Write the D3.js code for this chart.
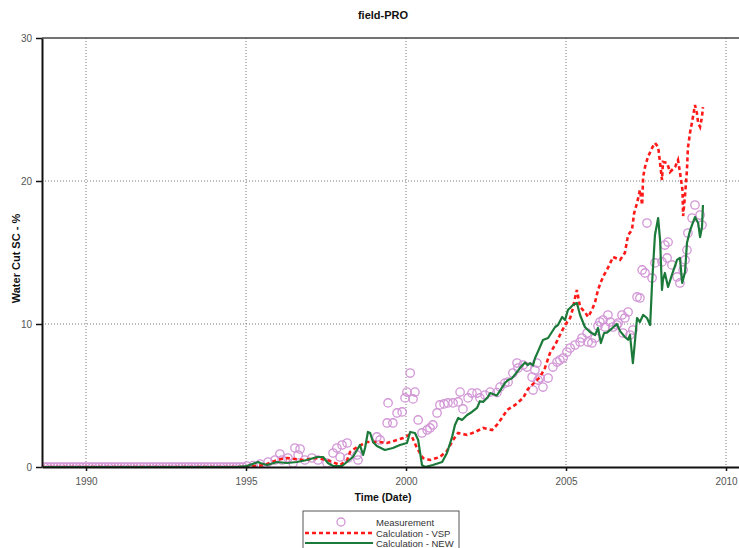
<!DOCTYPE html>
<html>
<head>
<meta charset="utf-8">
<script src="https://cdn.jsdelivr.net/npm/d3@7"></script>
<style>
  body { margin: 0; background: #fff; }
  svg { display: block; font-family: "Liberation Sans", Arial, sans-serif; }
</style>
</head>
<body>
<div id="chart"></div>
<script>
// ---- data (decimal year, water cut %) ----
const yearTicks = [1990, 1995, 2000, 2005, 2010];
const valueTicks = [0, 10, 20, 30];

// measurement sits at zero before production starts
const measZeroYears = [1988.7, 1988.8, 1988.9, 1989.0, 1989.1, 1989.2, 1989.3, 1989.4, 1989.5, 1989.6,
  1989.7, 1989.8, 1989.9, 1990.0, 1990.1, 1990.2, 1990.3, 1990.4, 1990.5, 1990.6, 1990.7, 1990.8,
  1990.9, 1991.0, 1991.1, 1991.2, 1991.3, 1991.4, 1991.5, 1991.6, 1991.7, 1991.8, 1991.9, 1992.0,
  1992.1, 1992.2, 1992.3, 1992.4, 1992.5, 1992.6, 1992.7, 1992.8, 1992.9, 1993.0, 1993.1, 1993.2,
  1993.3, 1993.4, 1993.5, 1993.6, 1993.7, 1993.8, 1993.9, 1994.0, 1994.1, 1994.2, 1994.3, 1994.4,
  1994.5, 1994.6, 1994.7, 1994.8, 1994.9];

const measurement = [
  [1995.03, 0.07], [1995.22, 0.1], [1995.44, 0.2], [1995.69, 0.35], [1995.91, 0.49], [1996.06, 0.91],
  [1996.13, 0.49], [1996.31, 0.63], [1996.47, 0.28], [1996.53, 1.33], [1996.63, 0.84], [1996.69, 1.26],
  [1996.84, 0.49], [1997.06, 0.63], [1997.25, 0.49], [1997.53, 0.28], [1997.72, 0.98], [1997.84, 1.33],
  [1997.94, 0.7], [1998.0, 1.54], [1998.16, 1.68], [1998.19, 0.63], [1998.47, 0.84], [1998.5, 0.49],
  [1999.09, 2.1], [1999.19, 1.89], [1999.41, 3.08], [1999.44, 4.48], [1999.59, 3.08], [1999.72, 3.78],
  [1999.88, 3.85], [1999.97, 4.83], [2000.03, 5.24], [2000.13, 6.57], [2000.22, 4.76], [2000.28, 5.24],
  [2000.38, 3.29], [2000.5, 2.38], [2000.66, 2.59], [2000.75, 2.73], [2000.84, 2.94], [2000.97, 3.78],
  [2001.06, 4.34], [2001.19, 4.41], [2001.31, 4.48], [2001.47, 4.48], [2001.63, 4.55], [2001.69, 5.24],
  [2001.78, 4.06], [2001.94, 4.83], [2002.06, 5.17], [2002.22, 5.17], [2002.31, 4.83], [2002.47, 5.03],
  [2002.63, 5.24], [2002.84, 5.2], [2002.94, 5.59], [2003.09, 5.87], [2003.19, 5.94], [2003.34, 6.57],
  [2003.47, 7.27], [2003.5, 6.92], [2003.66, 7.13], [2003.78, 6.99], [2003.94, 6.29], [2003.97, 5.38],
  [2004.03, 6.78], [2004.09, 7.27], [2004.13, 6.08], [2004.19, 6.22], [2004.28, 5.59], [2004.44, 6.22],
  [2004.59, 6.99], [2004.72, 7.34], [2004.81, 7.48], [2004.91, 7.62], [2005.03, 8.04], [2005.13, 8.32],
  [2005.28, 8.53], [2005.44, 8.74], [2005.5, 9.02], [2005.66, 9.37], [2005.69, 8.74], [2005.81, 8.67],
  [2005.91, 9.02], [2006.0, 9.86], [2006.06, 10.14], [2006.16, 10.28], [2006.22, 9.79], [2006.31, 10.63],
  [2006.38, 10.14], [2006.47, 9.79], [2006.59, 9.93], [2006.63, 10.07], [2006.75, 10.63], [2006.78, 9.37],
  [2006.84, 10.42], [2006.94, 10.84], [2007.0, 9.23], [2007.09, 9.58], [2007.22, 11.89], [2007.31, 11.82],
  [2007.38, 13.78], [2007.47, 13.57], [2007.53, 17.06], [2007.69, 13.22], [2007.78, 14.27], [2008.0, 14.34],
  [2008.09, 15.52], [2008.16, 14.62], [2008.19, 15.73], [2008.31, 14.13], [2008.47, 13.29], [2008.56, 12.87],
  [2008.66, 13.78], [2008.72, 14.48], [2008.78, 15.17], [2008.81, 16.36], [2008.94, 17.41], [2009.03, 18.32],
  [2009.19, 17.62], [2009.25, 16.92]
];

const calcVsp = [
  [1988.63, 0], [1995.0, 0], [1995.59, 0.14], [1995.97, 0.49], [1996.28, 0.63], [1996.78, 0.49],
  [1997.22, 0.63], [1997.53, 0.49], [1997.94, 0.14], [1998.16, 0.49], [1998.25, 1.05], [1998.47, 1.4],
  [1998.78, 1.75], [1999.19, 1.75], [1999.41, 1.68], [1999.72, 1.89], [1999.91, 2.03], [2000.09, 2.24],
  [2000.19, 2.1], [2000.34, 1.33], [2000.53, 0.63], [2000.75, 0.49], [2001.06, 0.7], [2001.28, 1.12],
  [2001.47, 1.89], [2001.63, 2.38], [2001.91, 2.24], [2002.16, 2.45], [2002.41, 2.73], [2002.69, 2.59],
  [2002.84, 2.94], [2003.0, 3.43], [2003.16, 3.99], [2003.41, 4.34], [2003.66, 4.83], [2003.81, 5.45],
  [2004.03, 5.94], [2004.19, 6.29], [2004.34, 6.92], [2004.5, 7.97], [2004.66, 8.53], [2004.81, 9.23],
  [2004.97, 9.93], [2005.13, 10.42], [2005.22, 11.12], [2005.28, 11.82], [2005.34, 12.38], [2005.44, 11.19],
  [2005.59, 10.84], [2005.69, 10.49], [2005.81, 10.98], [2005.91, 11.54], [2006.0, 12.38], [2006.09, 12.94],
  [2006.19, 13.43], [2006.31, 13.92], [2006.47, 14.69], [2006.69, 14.48], [2006.84, 14.97], [2006.94, 16.22],
  [2007.06, 16.57], [2007.13, 17.76], [2007.22, 18.46], [2007.31, 19.37], [2007.38, 18.32], [2007.41, 20.28],
  [2007.47, 20.98], [2007.56, 21.68], [2007.69, 22.31], [2007.78, 22.66], [2007.88, 22.38], [2007.94, 21.26],
  [2008.0, 20.07], [2008.03, 21.33], [2008.16, 21.26], [2008.25, 20.63], [2008.41, 20.98], [2008.5, 21.47],
  [2008.56, 20.63], [2008.64, 19.37], [2008.66, 17.55], [2008.72, 19.02], [2008.78, 20.77], [2008.81, 22.31],
  [2008.88, 23.43], [2008.94, 24.13], [2009.03, 25.31], [2009.09, 24.76], [2009.13, 24.06], [2009.19, 23.78],
  [2009.25, 24.48], [2009.28, 25.17]
];

const calcNew = [
  [1988.63, 0], [1994.7, 0], [1995.03, 0.07], [1995.38, 0.35], [1995.44, 0.28], [1995.66, 0.14],
  [1995.97, 0.35], [1996.28, 0.28], [1996.59, 0.35], [1996.91, 0.49], [1997.22, 0.7], [1997.41, 0.7],
  [1997.56, 0.28], [1997.72, 0.07], [1998.0, 0.07], [1998.34, 0.7], [1998.56, 1.54], [1998.66, 0.84],
  [1998.72, 1.33], [1998.81, 2.45], [1998.88, 2.38], [1998.97, 1.75], [1999.09, 1.47], [1999.34, 1.19],
  [1999.59, 1.33], [1999.81, 1.54], [2000.03, 1.68], [2000.13, 2.45], [2000.28, 2.38], [2000.38, 1.89],
  [2000.5, 0.14], [2000.59, 0], [2000.84, 0.14], [2001.13, 0.35], [2001.28, 0.98], [2001.44, 2.1],
  [2001.53, 2.94], [2001.63, 3.43], [2001.75, 3.29], [2001.91, 3.64], [2002.06, 3.85], [2002.22, 4.13],
  [2002.31, 4.6], [2002.41, 4.55], [2002.56, 4.9], [2002.63, 5.17], [2002.84, 5.0], [2002.97, 5.45],
  [2003.09, 5.87], [2003.19, 6.08], [2003.31, 6.2], [2003.47, 6.64], [2003.56, 6.92], [2003.72, 7.3],
  [2003.81, 7.13], [2003.88, 7.27], [2003.97, 7.1], [2004.03, 7.6], [2004.13, 8.1], [2004.28, 8.88],
  [2004.44, 9.02], [2004.56, 9.44], [2004.66, 9.79], [2004.75, 9.93], [2004.88, 10.49], [2004.97, 10.28],
  [2005.06, 10.98], [2005.22, 11.33], [2005.34, 11.47], [2005.44, 10.63], [2005.59, 9.79], [2005.75, 9.44],
  [2005.91, 9.23], [2006.0, 9.72], [2006.09, 8.67], [2006.19, 9.37], [2006.28, 9.4], [2006.44, 9.7],
  [2006.59, 10.0], [2006.69, 9.5], [2006.84, 9.09], [2006.94, 8.9], [2007.0, 9.23], [2007.09, 7.27],
  [2007.16, 8.9], [2007.22, 10.42], [2007.31, 10.14], [2007.41, 10.63], [2007.53, 10.42], [2007.63, 9.93],
  [2007.69, 12.87], [2007.78, 16.22], [2007.88, 17.41], [2007.94, 15.87], [2008.0, 12.38], [2008.03, 13.08],
  [2008.09, 13.57], [2008.19, 12.59], [2008.31, 13.43], [2008.47, 14.48], [2008.56, 14.62], [2008.63, 12.87],
  [2008.72, 13.64], [2008.78, 15.66], [2008.88, 16.57], [2009.03, 17.48], [2009.13, 17.06], [2009.19, 16.08],
  [2009.25, 16.78], [2009.28, 18.32]
];

const legendItems = ["Measurement", "Calculation - VSP", "Calculation - NEW"];

// ---- layout ----
const W = 739, H = 548;
const margin = { top: 38, right: 0, bottom: 81, left: 42 };
const plotW = W - margin.left - margin.right;
const plotH = H - margin.top - margin.bottom;

const svg = d3.select("#chart").append("svg")
  .attr("width", W)
  .attr("height", H);

const x = d3.scaleLinear()
  .domain([1988.625, 1988.625 + plotW / 32])
  .range([0, plotW]);
const y = d3.scaleLinear()
  .domain([0, 30])
  .range([plotH, 0]);

const g = svg.append("g")
  .attr("transform", `translate(${margin.left},${margin.top})`);

g.append("clipPath").attr("id", "clip")
  .append("rect").attr("width", plotW).attr("height", plotH);

// grid
g.selectAll(".vgrid").data(yearTicks).enter().append("line")
  .attr("x1", d => x(d)).attr("x2", d => x(d))
  .attr("y1", 0).attr("y2", plotH)
  .attr("stroke", "#777").attr("stroke-width", 1).attr("stroke-dasharray", "1,2");
g.selectAll(".hgrid").data([10, 20]).enter().append("line")
  .attr("x1", 0).attr("x2", plotW)
  .attr("y1", d => y(d)).attr("y2", d => y(d))
  .attr("stroke", "#777").attr("stroke-width", 1).attr("stroke-dasharray", "1,2");

const plot = g.append("g").attr("clip-path", "url(#clip)");

// measurement circles
const measAll = measZeroYears.map(yr => [yr, 0]).concat(measurement);
plot.selectAll(".meas").data(measAll).enter().append("circle")
  .attr("cx", d => x(d[0]))
  .attr("cy", d => y(d[1]))
  .attr("r", 4.2)
  .attr("fill", "none")
  .attr("stroke", "#d296d6")
  .attr("stroke-width", 1.3);

const line = d3.line().x(d => x(d[0])).y(d => y(d[1]));

plot.append("path").datum(calcVsp)
  .attr("d", line)
  .attr("fill", "none")
  .attr("stroke", "#ff1a1a")
  .attr("stroke-width", 2.6)
  .attr("stroke-dasharray", "4,3");

plot.append("path").datum(calcNew)
  .attr("d", line)
  .attr("fill", "none")
  .attr("stroke", "#1b7a3a")
  .attr("stroke-width", 2.2)
  .attr("stroke-linejoin", "round");

// axes
const xAxis = d3.axisBottom(x).tickValues(yearTicks).tickFormat(d3.format("d")).tickSize(4).tickSizeOuter(0);
const yAxis = d3.axisLeft(y).tickValues(valueTicks).tickSize(6).tickSizeOuter(0);

const xg = g.append("g").attr("transform", `translate(0,${plotH})`).call(xAxis);
const yg = g.append("g").call(yAxis);

[xg, yg].forEach(a => {
  a.select(".domain").attr("stroke", "#111").attr("stroke-width", 2);
  a.selectAll(".tick line").attr("stroke", "#111").attr("stroke-width", 1.5);
  a.selectAll(".tick text").attr("fill", "#555").attr("font-size", 10)
    .attr("font-family", "Liberation Sans, Arial, sans-serif");
});
xg.selectAll(".tick text").attr("dy", "1.05em");
yg.selectAll(".tick text").attr("dx", "-0.1em");

// top border
g.append("line").attr("x1", 0).attr("x2", plotW).attr("y1", 0).attr("y2", 0)
  .attr("stroke", "#444").attr("stroke-width", 1.6);

// titles
svg.append("text")
  .attr("x", 383).attr("y", 19)
  .attr("text-anchor", "middle")
  .attr("font-size", 11).attr("font-weight", "bold").attr("fill", "#111")
  .text("field-PRO");

svg.append("text")
  .attr("x", 383).attr("y", 501)
  .attr("text-anchor", "middle")
  .attr("font-size", 10.5).attr("font-weight", "bold").attr("fill", "#111")
  .text("Time (Date)");

svg.append("text")
  .attr("transform", `translate(20,${margin.top + plotH / 2 + 6}) rotate(-90)`)
  .attr("text-anchor", "middle")
  .attr("font-size", 11).attr("font-weight", "bold").attr("fill", "#111")
  .text("Water Cut SC - %");

// legend
const lg = svg.append("g").attr("transform", "translate(303,511)");
lg.append("rect")
  .attr("width", 156).attr("height", 44)
  .attr("fill", "#fff").attr("stroke", "#555").attr("stroke-width", 1);

const rowY = [11, 22, 32];
lg.append("circle").attr("cx", 38).attr("cy", rowY[0]).attr("r", 4)
  .attr("fill", "none").attr("stroke", "#d296d6").attr("stroke-width", 1.3);
lg.append("line").attr("x1", 2).attr("x2", 70).attr("y1", rowY[1]).attr("y2", rowY[1])
  .attr("stroke", "#ff1a1a").attr("stroke-width", 2.6).attr("stroke-dasharray", "4,3");
lg.append("line").attr("x1", 2).attr("x2", 70).attr("y1", rowY[2]).attr("y2", rowY[2])
  .attr("stroke", "#1b7a3a").attr("stroke-width", 2.2);

lg.selectAll(".ltext").data(legendItems).enter().append("text")
  .attr("x", 73).attr("y", (d, i) => rowY[i] + 3.5)
  .attr("font-size", 9.5).attr("fill", "#333")
  .text(d => d);
</script>
</body>
</html>
